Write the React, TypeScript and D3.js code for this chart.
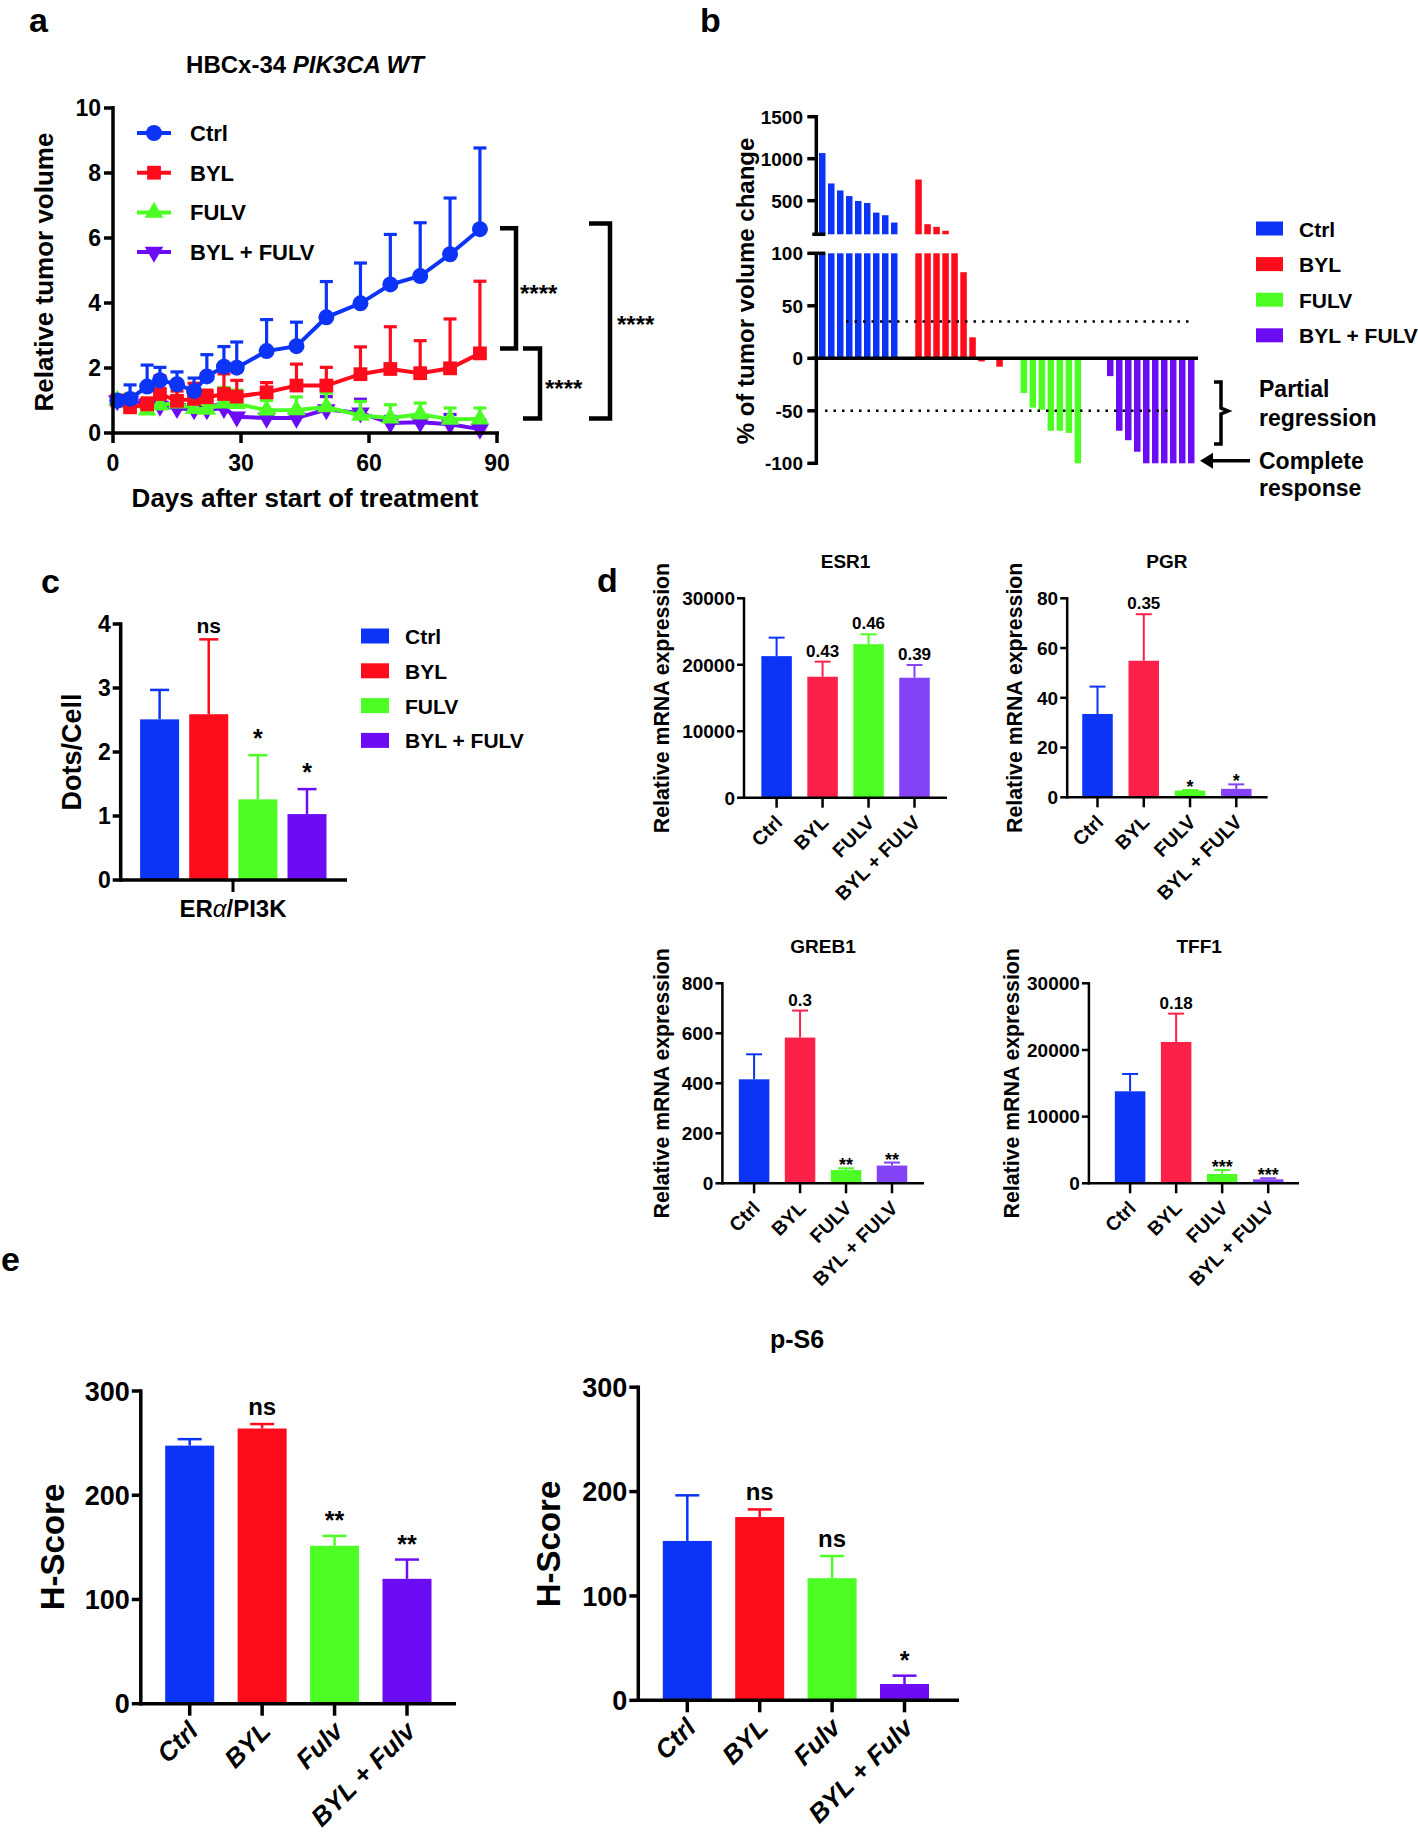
import React from "react";
import * as d3 from "d3";

// colours
const BLUE = "#0b34f6";
const RED = "#fe0b1c";
const GREEN = "#4cfe24";
const PURPLE = "#6c0cf5";
const RED_D = "#fd2048";
const PURPLE_D = "#8442f6";
const FONT = "'Liberation Sans', Arial, Helvetica, sans-serif";

// ---- panel a: relative tumor volume
const days = [1, 4, 8, 11, 15, 19, 22, 26, 29, 36, 43, 50, 58, 65, 72, 79, 86];
const ctrlMean = [1.0, 1.05, 1.43, 1.62, 1.5, 1.29, 1.74, 2.04, 2.01, 2.52, 2.67, 3.56, 3.99, 4.57, 4.83, 5.5, 6.27];
const ctrlSd = [0.05, 0.43, 0.66, 0.4, 0.38, 0.4, 0.67, 0.62, 0.79, 0.97, 0.74, 1.1, 1.24, 1.54, 1.64, 1.73, 2.5];
const bylMean = [1.0, 0.79, 0.88, 1.2, 0.99, 1.05, 1.1, 1.2, 1.12, 1.25, 1.46, 1.46, 1.81, 1.97, 1.84, 1.99, 2.45];
const bylSd = [0.05, 0.15, 0.2, 0.56, 0.3, 0.48, 0.22, 0.62, 0.5, 0.3, 0.66, 0.56, 0.84, 1.3, 1.0, 1.52, 2.22];
const fulvMean = [1.0, 0.95, 0.7, 0.86, 0.92, 0.75, 0.73, 0.92, 0.9, 0.7, 0.71, 0.8, 0.54, 0.46, 0.58, 0.42, 0.43];
const fulvSd = [0.05, 0.25, 0.1, 0.2, 0.45, 0.15, 0.15, 0.48, 0.42, 0.3, 0.4, 0.43, 0.43, 0.41, 0.34, 0.35, 0.34];
const comboMean = [1.0, 0.98, 0.9, 0.83, 0.76, 0.72, 0.72, 0.76, 0.5, 0.46, 0.46, 0.72, 0.62, 0.31, 0.33, 0.27, 0.12];
const comboSd = [0.05, 0.1, 0.15, 0.15, 0.1, 0.1, 0.1, 0.15, 0.1, 0.1, 0.1, 0.4, 0.42, 0.2, 0.18, 0.3, 0.28];
const groupNames = ["Ctrl", "BYL", "FULV", "BYL + FULV"];

// ---- panel b: waterfall (% of tumor volume change)
const wfCtrl = [1067, 705, 622, 555, 496, 473, 358, 327, 240];
const wfByl = [752, 220, 189, 142, 100, 82, 20, -3, 0, -8];
const wfFulv = [-33, -47, -49, -69, -69, -71, -100];
const wfCombo = [-17, -69, -78, -89, -100, -100, -100, -100, -100, -100];

// ---- panel c
const cMean = [2.51, 2.59, 1.26, 1.03];
const cSd = [0.46, 1.17, 0.69, 0.39];
const cNotes = ["", "ns", "*", "*"];

// ---- panel d
const esr1Mean = [21300, 18200, 23100, 18050];
const esr1Sd = [2780, 2270, 1480, 1920];
const esr1Notes = ["", "0.43", "0.46", "0.39"];
const pgrMean = [33.5, 54.9, 2.7, 3.4];
const pgrSd = [11, 18.7, 0.2, 1.8];
const pgrNotes = ["", "0.35", "*", "*"];
const greb1Mean = [416, 583, 53, 71];
const greb1Sd = [100, 108, 7, 12];
const greb1Notes = ["", "0.3", "**", "**"];
const tff1Mean = [13800, 21200, 1400, 600];
const tff1Sd = [2600, 4250, 600, 150];
const tff1Notes = ["", "0.18", "***", "***"];

// ---- panel e
const eCats = ["Ctrl", "BYL", "Fulv", "BYL + Fulv"];
const erMean = [247.6, 264, 151.5, 119.8];
const erSd = [6.2, 4.3, 9.5, 18.5];
const erNotes = ["", "ns", "**", "**"];
const ps6Mean = [152.7, 175.6, 117, 15.6];
const ps6Sd = [43.7, 7.3, 21.2, 8];
const ps6Notes = ["", "ns", "ns", "*"];

const T = (p: any) => <text fontFamily={FONT} fontWeight="bold" {...p} />;

function PanelA() {
  const x = d3.scaleLinear().domain([0, 90]).range([113, 497]);
  const y = d3.scaleLinear().domain([0, 10]).range([433, 108]);
  const series = [
    { name: groupNames[3], mean: comboMean, sd: comboSd, color: PURPLE, sym: d3.symbolTriangle, rot: 180 },
    { name: groupNames[2], mean: fulvMean, sd: fulvSd, color: GREEN, sym: d3.symbolTriangle, rot: 0 },
    { name: groupNames[1], mean: bylMean, sd: bylSd, color: RED, sym: d3.symbolSquare, rot: 0 },
    { name: groupNames[0], mean: ctrlMean, sd: ctrlSd, color: BLUE, sym: d3.symbolCircle, rot: 0 },
  ];
  const symPath = (s: any) =>
    d3.symbol().type(s.sym).size(s.sym === d3.symbolTriangle ? 150 : s.sym === d3.symbolSquare ? 190 : 200)()!;
  const line = d3.line<number>().x((_, i) => x(days[i])).y((d) => y(d));
  return (
    <g>
      <T x={29} y={32} fontSize={34}>a</T>
      <T x={305} y={73} fontSize={24} textAnchor="middle">
        HBCx-34 <tspan fontStyle="italic">PIK3CA WT</tspan>
      </T>
      {series.map((s) => (
        <g key={s.name}>
          {s.mean.map((m, i) => (
            <g key={i} stroke={s.color} strokeWidth={3.2}>
              <line x1={x(days[i])} x2={x(days[i])} y1={y(m)} y2={y(m + s.sd[i])} />
              <line x1={x(days[i]) - 6.5} x2={x(days[i]) + 6.5} y1={y(m + s.sd[i])} y2={y(m + s.sd[i])} />
            </g>
          ))}
          <path d={line(s.mean)!} fill="none" stroke={s.color} strokeWidth={4} />
          {s.mean.map((m, i) => (
            <path key={i} d={symPath(s)} fill={s.color}
              transform={`translate(${x(days[i])},${y(m)}) rotate(${s.rot})`} />
          ))}
        </g>
      ))}
      {/* axes */}
      <g stroke="#000" strokeWidth={3.5}>
        <line x1={113} x2={113} y1={106} y2={435} />
        <line x1={111} x2={499} y1={433} y2={433} />
        {y.ticks(5).map((t) => <line key={t} x1={104} x2={113} y1={y(t)} y2={y(t)} />)}
        {[0, 30, 60, 90].map((t) => <line key={t} x1={x(t)} x2={x(t)} y1={433} y2={443} />)}
      </g>
      {y.ticks(5).map((t) => (
        <T key={t} x={101} y={y(t) + 8} fontSize={23} textAnchor="end">{t}</T>
      ))}
      {[0, 30, 60, 90].map((t) => (
        <T key={t} x={x(t)} y={471} fontSize={23} textAnchor="middle">{t}</T>
      ))}
      <T x={305} y={507} fontSize={26} textAnchor="middle">Days after start of treatment</T>
      <T transform="translate(44,272) rotate(-90)" fontSize={26} textAnchor="middle" dy="0.35em">Relative tumor volume</T>
      {/* legend */}
      {[...series].reverse().map((s, i) => {
        const ly = 133 + i * 39.7;
        return (
          <g key={s.name}>
            <line x1={137} x2={171} y1={ly} y2={ly} stroke={s.color} strokeWidth={4} />
            <path d={symPath(s)} fill={s.color} transform={`translate(154,${ly}) rotate(${s.rot})`} />
            <T x={190} y={ly + 8} fontSize={22}>{s.name}</T>
          </g>
        );
      })}
      {/* significance brackets */}
      <g fill="none" stroke="#000" strokeWidth={4.5}>
        <path d={`M500,${y(6.3)}H516V${y(2.6)}H500`} />
        <path d={`M523,${y(2.6)}H540V${y(0.45)}H523`} />
        <path d={`M589,${y(6.45)}H610V${y(0.45)}H589`} />
      </g>
      <T x={520} y={y(4.45) + 14} fontSize={24}>****</T>
      <T x={545} y={y(1.55) + 14} fontSize={24}>****</T>
      <T x={617} y={y(3.5) + 14} fontSize={24}>****</T>
    </g>
  );
}

function PanelB() {
  const groups = [
    { vals: wfCtrl, color: BLUE, name: groupNames[0] },
    { vals: wfByl, color: RED, name: groupNames[1] },
    { vals: wfFulv, color: GREEN, name: groupNames[2] },
    { vals: wfCombo, color: PURPLE, name: groupNames[3] },
  ];
  const gaps = [0, 2.7, 2.7, 3.6];
  const bars: { v: number; slot: number; color: string }[] = [];
  let slot = 0;
  groups.forEach((g, gi) => {
    g.vals.forEach((v, i) => {
      slot = i === 0 ? (gi === 0 ? 0 : slot + gaps[gi]) : slot + 1;
      bars.push({ v, slot, color: g.color });
    });
  });
  const x = d3.scaleLinear().domain([0, 1]).range([819, 828]);
  const bw = 6.5;
  const yUp = d3.scaleLinear().domain([100, 1500]).range([234.3, 116.7]);
  const yLo = d3.scaleLinear().domain([-100, 100]).range([463.3, 253.3]);
  const ax = 816.3;
  return (
    <g>
      <T x={700} y={32} fontSize={34}>b</T>
      {bars.map((b, i) => {
        const lo = Math.max(-100, Math.min(100, b.v));
        return (
          <g key={i} fill={b.color}>
            <rect x={x(b.slot)} width={bw} y={Math.min(yLo(0), yLo(lo))} height={Math.abs(yLo(lo) - yLo(0))} />
            {b.v > 100 && (
              <rect x={x(b.slot)} width={bw} y={yUp(Math.min(b.v, 1500))} height={yUp(100) - yUp(Math.min(b.v, 1500))} />
            )}
          </g>
        );
      })}
      <g stroke="#000" strokeWidth={2.5} strokeDasharray="2.5,6">
        <line x1={846} x2={1191} y1={yLo(35)} y2={yLo(35)} />
        <line x1={825} x2={1168} y1={yLo(-50)} y2={yLo(-50)} />
      </g>
      <g stroke="#000" strokeWidth={3.5}>
        <line x1={ax} x2={ax} y1={115} y2={235} />
        <line x1={ax} x2={ax} y1={252} y2={465} />
        <line x1={ax - 4} x2={1198} y1={yLo(0)} y2={yLo(0)} />
        <line x1={ax - 4} x2={ax + 9} y1={234.3} y2={234.3} />
        <line x1={ax - 9} x2={ax + 9} y1={253.3} y2={253.3} />
        {[500, 1000, 1500].map((t) => <line key={t} x1={ax - 9} x2={ax} y1={yUp(t)} y2={yUp(t)} />)}
        {[-100, -50, 0, 50].map((t) => <line key={t} x1={ax - 9} x2={ax} y1={yLo(t)} y2={yLo(t)} />)}
      </g>
      {[500, 1000, 1500].map((t) => (
        <T key={t} x={803} y={yUp(t) + 7} fontSize={19} textAnchor="end">{t}</T>
      ))}
      {[-100, -50, 0, 50, 100].map((t) => (
        <T key={t} x={803} y={yLo(t) + 7} fontSize={19} textAnchor="end">{t}</T>
      ))}
      <T transform="translate(746,291) rotate(-90)" fontSize={24} textAnchor="middle" dy="0.35em">% of tumor volume change</T>
      {groups.map((g, i) => {
        const ly = 228.5 + i * 35.6;
        return (
          <g key={g.name}>
            <rect x={1256} y={ly - 7} width={27} height={14} fill={g.color} />
            <T x={1299} y={ly + 8} fontSize={21}>{g.name}</T>
          </g>
        );
      })}
      <path d="M1214,382H1221V408L1228,411L1221,414V444H1214" fill="none" stroke="#000" strokeWidth={3.5} />
      <T x={1259} y={397} fontSize={23}>Partial</T>
      <T x={1259} y={426} fontSize={23}>regression</T>
      <line x1={1250} x2={1210} y1={yLo(-100) - 2.5} y2={yLo(-100) - 2.5} stroke="#000" strokeWidth={3.5} />
      <path d={`M1200,${yLo(-100) - 2.5}l13,-8v16z`} fill="#000" />
      <T x={1259} y={469} fontSize={23}>Complete</T>
      <T x={1259} y={496} fontSize={23}>response</T>
    </g>
  );
}

type Geo = {
  axisX: number; axisEnd: number; firstC: number; lastC: number; yTop: number; y0: number;
  max: number; step: number; barW: number; sw: number; tick: number; tickFont: number;
  capW: number; errSw: number; noteFont: number; noteGap: number; starFont: number; starGap: number;
};

function Bars(props: {
  g: Geo; cats: string[]; mean: number[]; sd: number[]; notes: string[]; colors: string[];
  tickMarks?: boolean;
}) {
  const { g, cats, mean, sd, notes, colors } = props;
  const y = d3.scaleLinear().domain([0, g.max]).range([g.y0, g.yTop]);
  const x = d3.scalePoint().domain(cats).range([g.firstC, g.lastC]);
  const ticks = d3.range(0, g.max + 1e-9, g.step);
  return (
    <g>
      {cats.map((c, i) => {
        const cx = x(c)!;
        const top = y(mean[i] + sd[i]);
        const star = notes[i].startsWith("*");
        return (
          <g key={c}>
            <g stroke={colors[i]} strokeWidth={g.errSw}>
              <line x1={cx} x2={cx} y1={y(mean[i])} y2={top} />
              <line x1={cx - g.capW / 2} x2={cx + g.capW / 2} y1={top} y2={top} />
            </g>
            <rect x={cx - g.barW / 2} width={g.barW} y={y(mean[i])} height={g.y0 - y(mean[i])} fill={colors[i]} />
            {notes[i] && (
              <T x={cx} y={top - (star ? g.starGap : g.noteGap)} fontSize={star ? g.starFont : g.noteFont} textAnchor="middle">
                {notes[i]}
              </T>
            )}
          </g>
        );
      })}
      <g stroke="#000" strokeWidth={g.sw}>
        <line x1={g.axisX} x2={g.axisX} y1={g.yTop - g.sw / 2} y2={g.y0 + g.sw / 2} />
        <line x1={g.axisX} x2={g.axisEnd} y1={g.y0} y2={g.y0} />
        {ticks.map((t) => <line key={t} x1={g.axisX - g.tick} x2={g.axisX} y1={y(t)} y2={y(t)} />)}
        {props.tickMarks !== false &&
          cats.map((c) => <line key={c} x1={x(c)} x2={x(c)} y1={g.y0} y2={g.y0 + g.tick + 3} />)}
      </g>
      {ticks.map((t) => (
        <T key={t} x={g.axisX - g.tick - 2} y={y(t) + g.tickFont * 0.36} fontSize={g.tickFont} textAnchor="end">
          {t}
        </T>
      ))}
    </g>
  );
}

function RotLabels(props: { g: Geo; cats: string[]; font: number; dx: number; dy: number; italic?: boolean }) {
  const { g, cats } = props;
  const x = d3.scalePoint().domain(cats).range([g.firstC, g.lastC]);
  return (
    <g>
      {cats.map((c) => (
        <T key={c} transform={`translate(${x(c)! + props.dx},${g.y0 + props.dy}) rotate(-45)`}
          fontSize={props.font} textAnchor="end" fontStyle={props.italic ? "italic" : "normal"}>
          {c}
        </T>
      ))}
    </g>
  );
}

function PanelC() {
  const g: Geo = {
    axisX: 120.7, axisEnd: 347, firstC: 159.6, lastC: 307, yTop: 624, y0: 880, max: 4, step: 1,
    barW: 39, sw: 3.5, tick: 8, tickFont: 23, capW: 19, errSw: 2.5,
    noteFont: 21, noteGap: 6, starFont: 25, starGap: 8,
  };
  const colors = [BLUE, RED, GREEN, PURPLE];
  return (
    <g>
      <T x={41} y={593} fontSize={34}>c</T>
      <Bars g={g} cats={groupNames} mean={cMean} sd={cSd} notes={cNotes} colors={colors} tickMarks={false} />
      <line x1={233} x2={233} y1={880} y2={892} stroke="#000" strokeWidth={3} />
      <T x={233} y={917} fontSize={24} textAnchor="middle">
        ER<tspan fontStyle="italic" fontWeight="normal">α</tspan>/PI3K
      </T>
      <T transform="translate(72,752) rotate(-90)" fontSize={27} textAnchor="middle" dy="0.35em">Dots/Cell</T>
      {groupNames.map((n, i) => {
        const ly = 636 + i * 34.8;
        return (
          <g key={n}>
            <rect x={361} y={ly - 7.5} width={28} height={15} fill={colors[i]} />
            <T x={405} y={ly + 8} fontSize={21}>{n}</T>
          </g>
        );
      })}
    </g>
  );
}

function PanelD() {
  const base = {
    barW: 30.5, sw: 2.5, tick: 7, tickFont: 19, capW: 16, errSw: 2,
    noteFont: 17, noteGap: 5, starFont: 18, starGap: -3,
  };
  const colors = [BLUE, RED_D, GREEN, PURPLE_D];
  const panels = [
    { name: "ESR1", mean: esr1Mean, sd: esr1Sd, notes: esr1Notes, yt: 662,
      g: { ...base, axisX: 744, axisEnd: 947, firstC: 776.6, lastC: 914.5, yTop: 598.3, y0: 797.7, max: 30000, step: 10000 } },
    { name: "PGR", mean: pgrMean, sd: pgrSd, notes: pgrNotes, yt: 1015,
      g: { ...base, axisX: 1067.2, axisEnd: 1267.6, firstC: 1097.5, lastC: 1236.3, yTop: 598.3, y0: 797.3, max: 80, step: 20 } },
    { name: "GREB1", mean: greb1Mean, sd: greb1Sd, notes: greb1Notes, yt: 662,
      g: { ...base, axisX: 722.4, axisEnd: 924, firstC: 754.1, lastC: 892, yTop: 983.3, y0: 1183.3, max: 800, step: 200 } },
    { name: "TFF1", mean: tff1Mean, sd: tff1Sd, notes: tff1Notes, yt: 1012,
      g: { ...base, axisX: 1088.9, axisEnd: 1299, firstC: 1130.1, lastC: 1268.2, yTop: 983.3, y0: 1183.3, max: 30000, step: 10000 } },
  ];
  return (
    <g>
      <T x={597} y={592} fontSize={34}>d</T>
      {panels.map((p) => (
        <g key={p.name}>
          <Bars g={p.g} cats={groupNames} mean={p.mean} sd={p.sd} notes={p.notes} colors={colors} />
          <RotLabels g={p.g} cats={groupNames} font={19.5} dx={7} dy={26} />
          <T x={(p.g.firstC + p.g.lastC) / 2} y={p.g.yTop - 30} fontSize={19} textAnchor="middle">{p.name}</T>
          <T transform={`translate(${p.yt},${(p.g.yTop + p.g.y0) / 2}) rotate(-90)`} fontSize={21.3}
            textAnchor="middle" dy="0.35em">Relative mRNA expression</T>
        </g>
      ))}
    </g>
  );
}

function PanelE() {
  const base = {
    max: 300, step: 100, barW: 49, sw: 3.5, tick: 9, tickFont: 27, capW: 24, errSw: 2.5,
    noteFont: 24, noteGap: 9, starFont: 25, starGap: 7,
  };
  const colors = [BLUE, RED, GREEN, PURPLE];
  const left: Geo = { ...base, axisX: 140.8, axisEnd: 456, firstC: 189.7, lastC: 407, yTop: 1391, y0: 1703.7 };
  const right: Geo = { ...base, axisX: 638.3, axisEnd: 959, firstC: 687.3, lastC: 904.5, yTop: 1387.2, y0: 1700.3 };
  return (
    <g>
      <T x={1} y={1271} fontSize={34}>e</T>
      <Bars g={left} cats={eCats} mean={erMean} sd={erSd} notes={erNotes} colors={colors} />
      <RotLabels g={left} cats={eCats} font={26} dx={10} dy={29} italic />
      <T transform="translate(52,1547) rotate(-90)" fontSize={33} textAnchor="middle" dy="0.35em">H-Score</T>
      <Bars g={right} cats={eCats} mean={ps6Mean} sd={ps6Sd} notes={ps6Notes} colors={colors} />
      <RotLabels g={right} cats={eCats} font={26} dx={10} dy={29} italic />
      <T transform="translate(548,1544) rotate(-90)" fontSize={33} textAnchor="middle" dy="0.35em">H-Score</T>
      <T x={797} y={1348} fontSize={25} textAnchor="middle">p-S6</T>
    </g>
  );
}

export default function App() {
  return (
    <svg width={1418} height={1835} viewBox="0 0 1418 1835"
      style={{ position: "absolute", left: 0, top: 0, background: "#fff" }}>
      <rect width={1418} height={1835} fill="#fff" />
      <PanelA />
      <PanelB />
      <PanelC />
      <PanelD />
      <PanelE />
    </svg>
  );
}
